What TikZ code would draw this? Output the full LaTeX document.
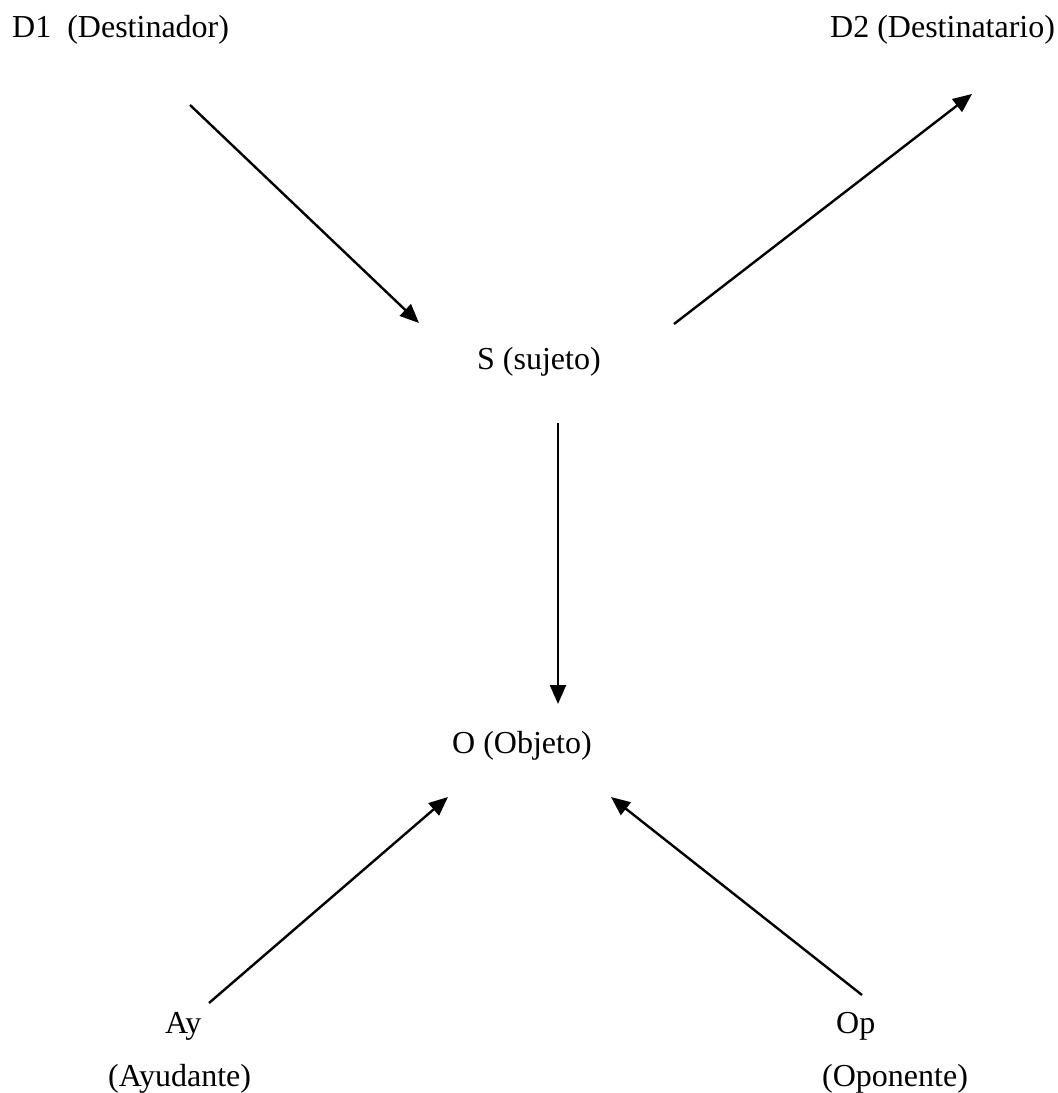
\documentclass[tikz,border=0pt]{standalone}
\usepackage{fontspec}
\setmainfont{Liberation Serif}
\usetikzlibrary{arrows.meta}
\begin{document}
\begin{tikzpicture}[x=1pt,y=-1pt,
  lbl/.style={inner sep=0pt,anchor=base west,font=\fontsize{32}{38}\selectfont},
  conn/.style={line width=2.4pt,-{Triangle[length=19pt,width=16pt]}}]
\useasboundingbox (0,0) rectangle (1058,1093);
\node[lbl] (d1) at (12,37) {D1~~(Destinador)};
\node[lbl] (d2) at (830,37) {D2 (Destinatario)};
\node[lbl] (s) at (477,369) {S (sujeto)};
\node[lbl] (o) at (452,753) {O (Objeto)};
\node[lbl] (ay) at (165,1033) {Ay};
\node[lbl] (ayd) at (108,1086) {(Ayudante)};
\node[lbl] (op) at (836,1033) {Op};
\node[lbl] (opd) at (822,1086) {(Oponente)};
\coordinate (d1s) at (190,105);
\coordinate (s1e) at (419,323);
\coordinate (s2s) at (674,324);
\coordinate (d2e) at (972,94);
\coordinate (s3s) at (558,423);
\coordinate (o1e) at (558,704);
\coordinate (ays) at (209,1003);
\coordinate (o2e) at (448,797);
\coordinate (ops) at (862,995);
\coordinate (o3e) at (611,797);
\draw[conn] (d1s) -- (s1e);
\draw[conn] (s2s) -- (d2e);
\draw[conn] (s3s) -- (o1e);
\draw[conn] (ays) -- (o2e);
\draw[conn] (ops) -- (o3e);
\end{tikzpicture}
\end{document}
